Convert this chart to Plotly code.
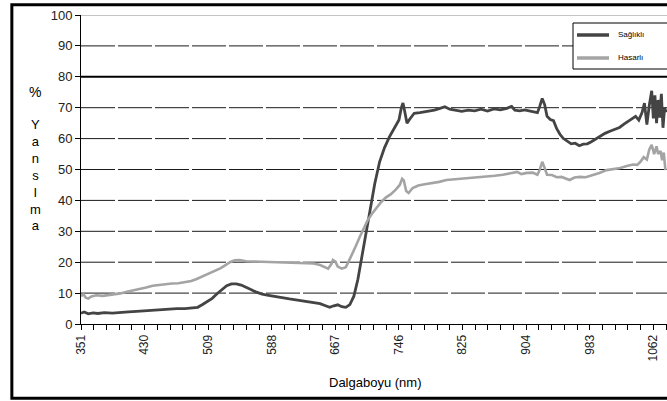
import plotly.graph_objects as go

# Reflectance spectra (wavelength in nm, reflectance in %)
wl_saglikli = [351, 355, 360, 366, 372, 380, 390, 400, 410, 420, 430, 440, 450, 460, 470, 480,
               490, 496, 502, 508, 514, 520, 526, 532, 538, 544, 550, 556, 562, 568, 576, 584,
               592, 600, 610, 620, 630, 640, 648, 654, 660, 665, 670, 675, 680, 685, 690, 695,
               700, 705, 710, 716, 722, 728, 734, 740, 746, 749, 751, 753, 756, 760, 765, 772,
               780, 790, 797, 803, 809, 816, 824, 832, 840, 848, 856, 864, 872, 880, 886, 890,
               896, 902, 908, 914, 918, 921, 924, 927, 930, 934, 938, 942, 946, 950, 955, 960,
               965, 970, 975, 980, 985, 990, 996, 1002, 1008, 1014, 1020, 1026, 1032, 1036,
               1040, 1044, 1048, 1051, 1054, 1057, 1060, 1062, 1064, 1066, 1068, 1070, 1072,
               1074, 1076, 1078]
ref_saglikli = [3.5, 3.9, 3.3, 3.6, 3.4, 3.7, 3.5, 3.8, 3.9, 4.1, 4.3, 4.5, 4.6, 4.8, 5.0, 5.0,
                5.2, 5.4, 6.3, 7.2, 8.3, 9.8, 11.2, 12.4, 13.0, 13.0, 12.6, 12.0, 11.2, 10.4, 9.7, 9.3,
                9.0, 8.6, 8.1, 7.7, 7.3, 7.0, 6.6, 6.0, 5.4, 5.9, 6.2, 5.6, 5.4, 6.3, 9.0, 14.5,
                22.0, 30.0, 37.0, 45.5, 52.5, 57.0, 60.5, 63.5, 66.0, 70.0, 71.5, 69.0, 65.0, 66.5, 68.2, 68.4,
                68.8, 69.2, 69.8, 70.3, 69.5, 69.2, 68.8, 69.2, 69.0, 69.5, 68.9, 69.6, 69.3, 69.8, 70.4, 69.2,
                69.0, 69.3, 69.0, 68.6, 68.4, 70.5, 73.0, 71.0, 67.2, 66.2, 65.8, 63.2, 61.4, 60.1, 59.3, 58.3,
                58.5, 57.7, 58.2, 58.3, 59.0, 59.8, 61.0, 61.7, 62.4, 63.0, 63.6, 64.8, 65.8, 66.4,
                67.2, 66.0, 68.4, 71.5, 64.5, 70.8, 75.5, 66.5, 74.0, 65.0, 72.5, 66.8, 74.5,
                63.5, 70.0, 68.5]

wl_hasarli = [351, 354, 357, 360, 364, 370, 378, 386, 394, 400, 408, 416, 424, 432, 440, 448,
              456, 464, 472, 480, 488, 494, 500, 508, 516, 524, 530, 536, 542, 548, 556, 566,
              576, 590, 600, 610, 620, 630, 640, 648, 654, 658, 662, 664, 667, 670, 675, 680,
              684, 688, 692, 697, 702, 707, 712, 718, 724, 730, 736, 742, 747, 750, 752, 755,
              758, 763, 770, 778, 788, 796, 805, 815, 825, 835, 845, 855, 865, 875, 885, 893,
              898, 905, 912, 918, 921, 924, 927, 930, 936, 942, 948, 954, 958, 964, 971, 978,
              987, 995, 1004, 1012, 1021, 1030, 1037, 1042, 1046, 1050, 1054, 1057, 1060, 1063,
              1066, 1068, 1071, 1073, 1075, 1077]
ref_hasarli = [9.0, 9.6, 8.5, 8.2, 8.9, 9.3, 9.1, 9.4, 9.6, 9.9, 10.4, 10.8, 11.3, 11.8, 12.4, 12.7,
               12.9, 13.1, 13.2, 13.5, 13.9, 14.5, 15.2, 16.0, 17.0, 18.0, 19.0, 20.0, 20.6, 20.7, 20.3, 20.2,
               20.2, 20.2, 20.1, 20.0, 19.8, 19.7, 19.6, 19.1, 18.3, 17.9, 19.4, 20.7, 20.2, 18.6, 17.9, 18.4,
               20.5, 22.5, 25.0, 28.0, 31.0, 33.5, 35.5, 37.5, 39.5, 41.0, 42.0, 43.5, 45.0, 47.0, 46.5, 43.0,
               42.4, 44.0, 44.8, 45.2, 45.6, 46.0, 46.6, 46.8, 47.0, 47.3, 47.4, 47.6, 48.0, 48.3, 48.8, 49.2,
               48.5, 48.9, 49.0, 48.3, 50.0, 52.5, 50.5, 48.3, 48.2, 47.5, 47.6, 47.0, 46.6, 47.4, 47.6, 47.5,
               48.2, 48.9, 49.8, 50.2, 50.5, 51.2, 51.6, 51.5, 52.5, 54.0, 53.2, 56.5, 58.0, 55.0,
               57.5, 55.0, 56.0, 53.0, 55.5, 49.8]

x_ticks = [351, 430, 509, 588, 667, 746, 825, 904, 983, 1062]
y_ticks = [0, 10, 20, 30, 40, 50, 60, 70, 80, 90, 100]
grid_dashed = [10, 20, 30, 40, 50, 60, 70, 90]
grid_bold = [80]

names = ["Sağlıklı", "Hasarlı"]
colors = ["#444444", "#a4a4a4"]

FONT = "Liberation Sans, Arial, sans-serif"

fig = go.Figure()
fig.add_trace(go.Scatter(x=wl_saglikli, y=ref_saglikli, mode="lines", name=names[0],
                         line=dict(color=colors[0], width=2.8), showlegend=False))
fig.add_trace(go.Scatter(x=wl_hasarli, y=ref_hasarli, mode="lines", name=names[1],
                         line=dict(color=colors[1], width=2.6), showlegend=False))

shapes = []
for g in grid_dashed:
    shapes.append(dict(type="line", xref="paper", yref="y", x0=0, x1=1, y0=g, y1=g,
                       line=dict(color="#1a1a1a", width=1, dash="34px,3px"), layer="below"))
for g in grid_bold:
    shapes.append(dict(type="line", xref="paper", yref="y", x0=0, x1=1, y0=g, y1=g,
                       line=dict(color="#000000", width=2), layer="below"))
# top edge of the plot area
shapes.append(dict(type="line", xref="paper", yref="y", x0=0, x1=1, y0=100, y1=100,
                   line=dict(color="#8a8a8a", width=1), layer="below"))
# outer chart frame
shapes.append(dict(type="rect", xref="paper", yref="paper", x0=-0.118, x1=1.05, y0=-0.24, y1=1.033,
                   line=dict(color="#000000", width=3), fillcolor="rgba(0,0,0,0)"))

# legend box
W, H = 586.0, 309.0
def px(xp):
    return (xp - 81) / W
def py(yp):
    return (324 - yp) / H

shapes.append(dict(type="rect", xref="paper", yref="paper", x0=px(573), x1=px(668), y0=py(69), y1=py(23),
                   line=dict(color="#000000", width=1), fillcolor="#ffffff"))
legend_rows = [34, 57]
annotations = []
for name, col, yrow in zip(names, colors, legend_rows):
    shapes.append(dict(type="line", xref="paper", yref="paper", x0=px(577), x1=px(609),
                       y0=py(yrow + 1), y1=py(yrow + 1), line=dict(color=col, width=3.5)))
    annotations.append(dict(text=name, xref="paper", yref="paper", x=px(616), y=py(yrow),
                            xanchor="left", yanchor="middle", showarrow=False,
                            font=dict(family=FONT, size=8, color="#000000")))

# axis titles
annotations.append(dict(text="%", xref="paper", yref="paper", x=px(35), y=py(92),
                        xanchor="center", yanchor="middle", showarrow=False,
                        font=dict(family=FONT, size=14, color="#000000")))
annotations.append(dict(text="Y<br>a<br>n<br>s<br>I<br>m<br>a", xref="paper", yref="paper",
                        x=px(35), y=py(175), xanchor="center", yanchor="middle", showarrow=False,
                        font=dict(family=FONT, size=13, color="#000000")))
annotations.append(dict(text="Dalgaboyu (nm)", xref="paper", yref="paper", x=px(375), y=py(382),
                        xanchor="center", yanchor="middle", showarrow=False,
                        font=dict(family=FONT, size=13, color="#000000")))

fig.update_layout(
    width=667, height=401,
    margin=dict(l=81, r=0, t=15, b=77),
    paper_bgcolor="#ffffff", plot_bgcolor="#ffffff",
    shapes=shapes, annotations=annotations,
    xaxis=dict(range=[351, 1079], tickvals=x_ticks, ticktext=[str(v) for v in x_ticks],
               tickangle=-90, showgrid=False, zeroline=False,
               showline=True, linecolor="#000000", linewidth=1,
               ticks="outside", ticklen=5, tickcolor="#000000",
               minor=dict(dtick=15.8, tick0=351, ticks="outside", ticklen=5, tickcolor="#000000"),
               tickfont=dict(family=FONT, size=12, color="#222222")),
    yaxis=dict(range=[0, 100], tickvals=y_ticks, showgrid=False, zeroline=False,
               showline=True, linecolor="#000000", linewidth=1,
               ticks="outside", ticklen=5, tickcolor="#000000",
               tickfont=dict(family=FONT, size=13, color="#222222")),
)

fig.write_html("out.html")
